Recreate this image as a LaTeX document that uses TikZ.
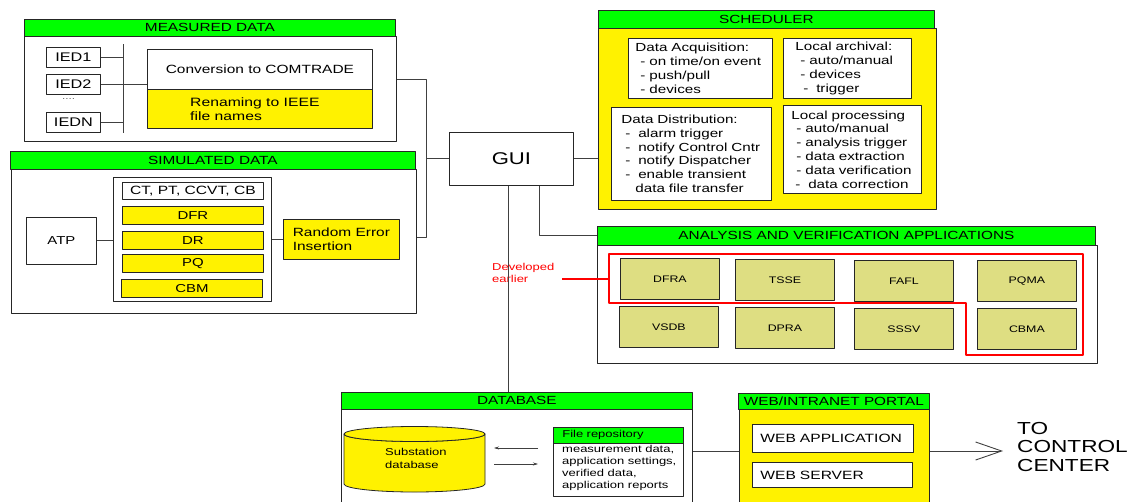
\documentclass[tikz,border=0pt]{standalone}
\usepackage{fontspec}
\setmainfont{Liberation Sans}[FakeStretch=1.3]
\usetikzlibrary{arrows.meta}
\definecolor{hgreen}{RGB}{0,255,0}
\definecolor{appyellow}{RGB}{222,222,130}
\definecolor{devred}{RGB}{255,0,0}
\newcommand\fs[2]{\fontsize{#1}{#2}\selectfont}
\newcommand\li[1][5pt]{\hspace*{#1}- }

\begin{document}
\begin{tikzpicture}[x=1pt, y=-1pt, line join=round, >={Stealth[length=5pt,width=3pt]},
  every node/.style={inner sep=0pt, anchor=north west},
  box/.style={draw=black!85, line width=0.8pt, fill=white},
  ybox/.style={box, fill=yellow},
  hdr/.style={box, fill=hgreen, font=\fs{11.8}{14}},
  lst/.style={box, align=left, font=\fs{11.7}{13.8}},
  app/.style={box, fill=appyellow, minimum width=99pt, minimum height=41pt, font=\fs{9.5}{11}},
  wire/.style={draw=black!75, line width=0.9pt}]
\useasboundingbox (0,0) rectangle (1135,501);

% measured data
\node[hdr, minimum width=371pt, minimum height=17pt] (mhead) at (24,19) {MEASURED DATA};
\node[box, minimum width=372pt, minimum height=105pt] (mbody) at (24,36) {};
\foreach \n/\y in {1/47,2/74,N/112}
  \node[box, minimum width=54pt, minimum height=20pt, font=\fs{12.5}{14}] (ied\n) at (46,\y) {IED\n};
\node[font=\fs{9}{10}, text=black!60] (dots) at (62,98) {....};
\coordinate (bus) at (123,44);
\node[box, minimum width=225pt, minimum height=40pt, font=\fs{11.9}{14}] (conv) at (147,49) {Conversion to COMTRADE};
\node[ybox, minimum width=225pt, minimum height=39pt] (ren) at (147,89) {};
\node[font=\fs{12.1}{14}, align=left, anchor=west] (rentxt) at ([xshift=43pt]ren.west) {Renaming to IEEE\\file names};
\draw[wire] (bus) -- (bus |- iedN.south);
\draw[wire] (ied1.east) -- (ied1.east -| bus) (iedN.east) -- (iedN.east -| bus)
  (ied2.east) -- (ied2.east -| conv.west);

% simulated data
\node[hdr, minimum width=405pt, minimum height=18pt] (shead) at (10,151) {SIMULATED DATA};
\node[box, minimum width=405pt, minimum height=144pt] (sbody) at (11,169) {};
\node[box, minimum width=70pt, minimum height=47pt, font=\fs{11.5}{14}] (atp) at (26,217) {ATP};
\node[box, minimum width=158pt, minimum height=124pt] (cont) at (113,177) {};
\node[box, minimum width=141pt, minimum height=17pt, font=\fs{12}{14}] (ct) at (122,182) {CT, PT, CCVT, CB};
\foreach \n/\x/\y in {DFR/122/206, DR/122/231, PQ/122/254, CBM/121/279}
  \node[ybox, minimum width=141pt, minimum height=18pt, font=\fs{11.5}{14}] (\n) at (\x,\y) {\n};
\node[ybox, minimum width=116pt, minimum height=40pt, align=left, font=\fs{11.9}{14}] (rei) at (283,219) {Random Error\\Insertion};
\draw[wire] (atp.east) -- (atp.east -| cont.west) (rei.west) -- (rei.west -| cont.east);

% gui and its links
\coordinate (jtop) at (426,79);
\coordinate (jbot) at (426,237);
\node[box, minimum width=124pt, minimum height=53pt, font=\fs{17}{20}] (gui) at (449,132) {GUI};
\draw[wire] (jtop -| mbody.east) -- (jtop) -- (jbot) -- (jbot -| sbody.east);
\draw[wire] (gui.west) -- (gui.west -| jtop);

% scheduler
\node[hdr, minimum width=336pt, minimum height=18pt] (chead) at (598,10) {SCHEDULER};
\node[ybox, minimum width=338pt, minimum height=181pt] (cbody) at (598,28) {};
\node[lst, minimum width=144pt, minimum height=60pt, text width=130pt] (acq) at (628,38)
  {Data Acquisition:\\\li on time/on event\\\li push/pull\\\li devices};
\node[lst, minimum width=128pt, minimum height=60pt, text width=104pt] (arch) at (783,38)
  {Local archival:\\\li auto/manual\\\li devices\\\li[8pt] trigger};
\node[lst, minimum width=160pt, minimum height=93pt, text width=140pt] (dist) at (611,107)
  {Data Distribution:\\\li[4pt] alarm trigger\\\li[4pt] notify Control Cntr\\\li[4pt] notify Dispatcher\\\li[4pt] enable transient\\\hspace*{14pt}data file transfer};
\node[lst, minimum width=138pt, minimum height=88pt, text width=122pt] (proc) at (783,105)
  {Local processing\\\li auto/manual\\\li analysis trigger\\\li data extraction\\\li data verification\\\li[4pt] data correction};
\draw[wire] (gui.east) -- (gui.east -| cbody.west);

% analysis and verification
\node[hdr, minimum width=498pt, minimum height=19pt] (ahead) at (597,226) {ANALYSIS AND VERIFICATION APPLICATIONS};
\node[box, minimum width=500pt, minimum height=118pt] (abody) at (597,245) {};
\foreach \n/\x/\y in {DFRA/620/258, TSSE/735/259, FAFL/854/260, PQMA/977/260,
                      VSDB/619/306, DPRA/735/307, SSSV/854/308, CBMA/977/308}
  \node[app] (\n) at (\x,\y) {\n};
\draw[wire] ([xshift=28pt]gui.south) |- (ahead.west);
\draw[devred, line width=1.3pt] (609,254) -- (1083,254) -- (1083,355) -- (966,355) -- (966,303) -- (609,303) -- cycle;
\node[text=devred, font=\fs{10}{12}, align=left] (devtxt) at (492,263) {Developed\\earlier};
\coordinate (redl) at (609,279);
\coordinate (redr) at (562,279);
\draw[devred, line width=1.1pt] (redr) -- (redl);

% database
\node[hdr, minimum width=351pt, minimum height=17pt] (dhead) at (341,392) {DATABASE};
\node[box, minimum width=351pt, minimum height=95pt] (dbody) at (341,409) {};
\draw[wire] ([xshift=-3pt]gui.south) -- ([xshift=-3pt]gui.south |- dhead.north);
\draw[box, fill=yellow] (344,434) -- (344,484) arc[start angle=180, end angle=0, x radius=70.5, y radius=8]
  -- (485,434) arc[start angle=0, end angle=180, x radius=70.5, y radius=7.5];
\draw[box, fill=yellow] (414.5,434) ellipse[x radius=70.5, y radius=7.5];
\node[font=\fs{10}{13}, align=left] (subdb) at (385,448) {Substation\\database};
\coordinate (dbr) at (494,456);
\coordinate (frl) at (538,456);
\draw[wire, line width=0.6pt, ->] ([yshift=8pt]frl) -- ([yshift=8pt]dbr);
\draw[wire, line width=0.6pt, ->] ([yshift=-8pt]dbr) -- ([yshift=-8pt]frl);
\node[box, minimum width=130pt, minimum height=69pt] (frep) at (553,427) {};
\node[box, fill=hgreen, minimum width=130pt, minimum height=16pt, text width=112pt, align=left, font=\fs{10}{12}] (fhead) at (553,427) {File repository};
\node[font=\fs{10}{12}, align=left] (ftxt) at (562,445) {measurement data,\\application settings,\\verified data,\\application reports};

% web portal
\node[hdr, minimum width=191pt, minimum height=16pt] (whead) at (738,393) {WEB/INTRANET PORTAL};
\node[ybox, minimum width=190pt, minimum height=95pt] (wbody) at (739,409) {};
\node[box, minimum height=28pt, text width=145pt, inner xsep=8pt, align=left, font=\fs{12}{14}] (wapp) at (752,424) {WEB APPLICATION};
\node[box, minimum height=25pt, text width=144pt, inner xsep=8pt, align=left, font=\fs{12}{14}] (wsrv) at (752,462) {WEB SERVER};
\coordinate (tip) at (1003,451);
\draw[wire] (dbody.east |- tip) -- (wbody.west |- tip);
\draw[wire, -{Straight Barb[length=26pt, width=18pt]}] (wbody.east |- tip) -- (tip);
\node[font=\fs{17.4}{18.5}, align=left] (ctrl) at (1017,422) {TO\\CONTROL\\CENTER};
\end{tikzpicture}
\end{document}
